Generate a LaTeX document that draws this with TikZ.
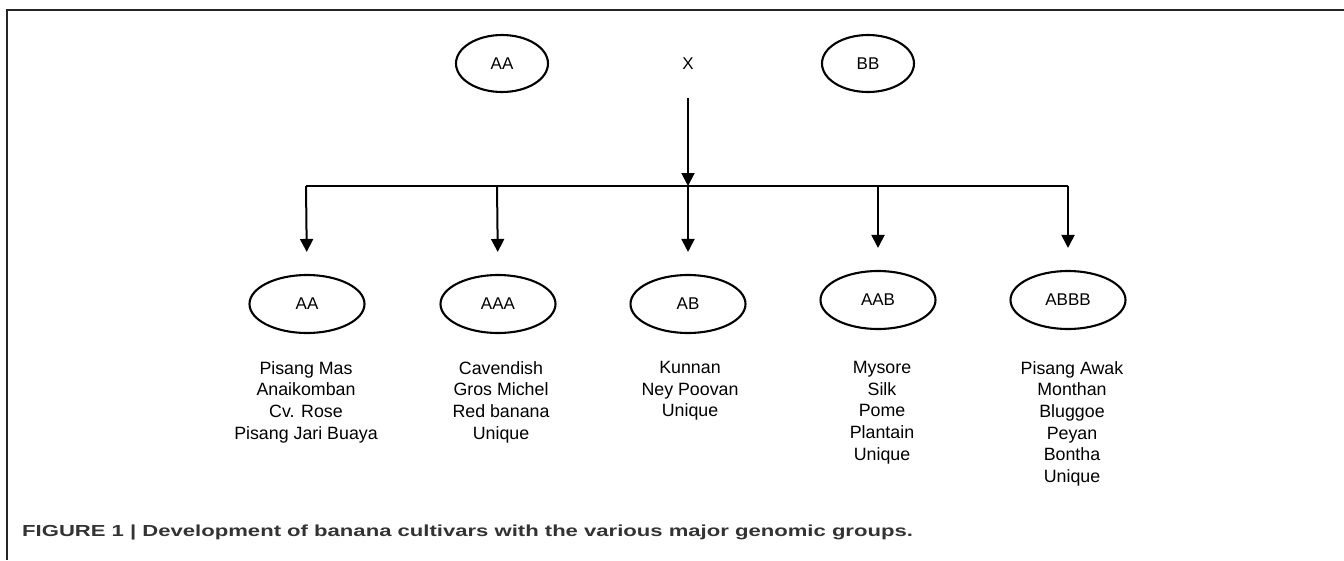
\documentclass[tikz,border=0pt]{standalone}
\usepackage{fontspec}
\setmainfont{Liberation Sans}
\newfontfamily\capfont[FakeStretch=1.38]{Liberation Sans Bold}
\usetikzlibrary{arrows.meta,shapes.geometric}
\begin{document}
\begin{tikzpicture}[x=1pt,y=-1pt,
  geno/.style={draw,ellipse,line width=2.1pt,inner sep=0pt,font=\fontsize{17}{20}\selectfont},
  topgeno/.style={geno,minimum width=92pt,minimum height=57pt},
  botgeno/.style={geno,minimum width=115pt,minimum height=58pt},
  cultlist/.style={align=center,anchor=north,inner sep=0pt,font=\fontsize{17.8}{21.7}\selectfont},
  arr/.style={line width=2pt,-{Triangle[width=13pt,length=13pt]}},
  barline/.style={line width=1.5pt},
  framel/.style={line width=1.2pt,black!85}]
\useasboundingbox (0,0) rectangle (1344,560);
% frame
\draw[framel] (1344,10) -- (7,10) -- (7,560);
% parents
\node[topgeno] (pAA) at (502,63.5) {AA};
\node[font=\fontsize{17}{20}\selectfont] (pX) at (688,63.5) {X};
\node[topgeno] (pBB) at (868,63.5) {BB};
% junction points
\coordinate (xs) at (688,98);
\coordinate (jn) at (688,186);
\coordinate (b1) at (306,186);
\coordinate (b2) at (497,186);
\coordinate (b3) at (688,186);
\coordinate (b4) at (878,186);
\coordinate (b5) at (1068,186);
% offspring groups
\node[botgeno] (cAA) at (307,304) {AA};
\node[botgeno] (cAAA) at (498,304) {AAA};
\node[botgeno] (cAB) at (688,304) {AB};
\node[botgeno] (cAAB) at (878,300) {AAB};
\node[botgeno] (cABBB) at (1068,300) {ABBB};
% connectors
\draw[arr] (xs) -- (jn);
\draw[barline] (b1) -- (b5);
\foreach \b/\c in {b1/cAA,b2/cAAA,b3/cAB,b4/cAAB,b5/cABBB}
  \draw[arr,shorten >=22pt] (\b) -- (\c.north);
% cultivar lists
\node[cultlist] (lAA) at (306,361) {Pisang Mas\\Anaikomban\\Cv. Rose\\Pisang Jari Buaya};
\node[cultlist] (lAAA) at (501,361) {Cavendish\\Gros Michel\\Red banana\\Unique};
\node[cultlist] (lAB) at (690,361) {Kunnan\\Ney Poovan\\Unique};
\node[cultlist] (lAAB) at (882,361) {Mysore\\Silk\\Pome\\Plantain\\Unique};
\node[cultlist] (lABBB) at (1072,361) {Pisang Awak\\Monthan\\Bluggoe\\Peyan\\Bontha\\Unique};
% caption
\node[anchor=west,inner sep=0pt,text=black!80,font=\capfont\fontsize{16}{19}\selectfont] (cap) at (22,532) {FIGURE 1 | Development of banana cultivars with the various major genomic groups.};
\end{tikzpicture}
\end{document}
